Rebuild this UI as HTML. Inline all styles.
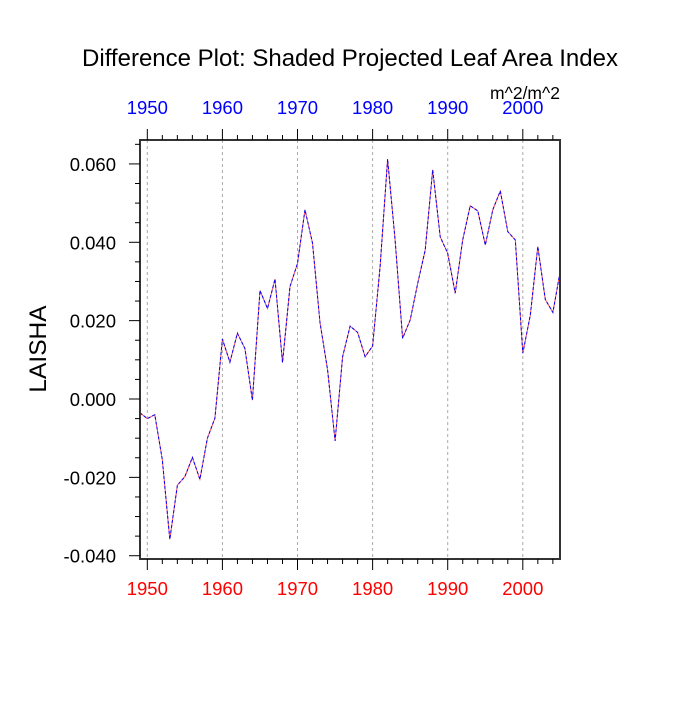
<!DOCTYPE html>
<html><head><meta charset="utf-8"><style>
body{margin:0;background:#fff}
svg{font-family:"Liberation Sans",sans-serif}
</style></head><body>
<svg id="chart" width="700" height="700">
<text x="350" y="66" font-size="24" text-anchor="middle">Difference Plot: Shaded Projected Leaf Area Index</text>
<text x="525" y="99" font-size="17.5" text-anchor="middle">m^2/m^2</text>
<text transform="translate(46,349) rotate(-90)" font-size="24.5" text-anchor="middle">LAISHA</text>
<g id="grid"></g><g id="series"></g><g id="axes"></g>
</svg>
<script>
const years=[1949,1950,1951,1952,1953,1954,1955,1956,1957,1958,1959,1960,1961,1962,1963,1964,1965,1966,1967,1968,1969,1970,1971,1972,1973,1974,1975,1976,1977,1978,1979,1980,1981,1982,1983,1984,1985,1986,1987,1988,1989,1990,1991,1992,1993,1994,1995,1996,1997,1998,1999,2000,2001,2002,2003,2004,2005];
const values=[-0.0035,-0.005,-0.004,-0.0155,-0.0358,-0.022,-0.0198,-0.0149,-0.0205,-0.010,-0.0049,0.0153,0.0094,0.0168,0.0129,-0.0003,0.0277,0.0231,0.0306,0.0093,0.0287,0.0346,0.0483,0.0398,0.0195,0.0074,-0.0107,0.0108,0.0186,0.0170,0.0108,0.0135,0.0338,0.0612,0.0406,0.0155,0.0202,0.0295,0.038,0.0585,0.0414,0.0372,0.027,0.0406,0.0493,0.048,0.0393,0.0483,0.0531,0.0427,0.0406,0.0117,0.0214,0.0389,0.0254,0.0221,0.0329];
const yTicks=[0.06,0.04,0.02,0,-0.02,-0.04];
const yTickLabels=["0.060","0.040","0.020","0.000","-0.020","-0.040"];
const xTicks=[1950,1960,1970,1980,1990,2000];

const L=140,R=560,T=140,B=559;
const X=v=>139.8+(v-1949)*7.51;
const Y=v=>399-(v)*3918;
const NS="http://www.w3.org/2000/svg";
function mk(tag,attrs,parent,txt){const e=document.createElementNS(NS,tag);for(const k in attrs)e.setAttribute(k,attrs[k]);if(txt!==undefined)e.textContent=txt;parent.appendChild(e);return e;}
const grid=document.getElementById('grid'),ser=document.getElementById('series'),ax=document.getElementById('axes');
xTicks.forEach(t=>{const g=mk('line',{x1:X(t),x2:X(t),y1:T,y2:B,stroke:'#aaa','stroke-width':1,'stroke-dasharray':'3,3'},grid);

});
const pts=years.map((y,i)=>X(y).toFixed(1)+','+Y(values[i]).toFixed(1)).join(' ');
const l1=mk('polyline',{points:pts,fill:'none',stroke:'#f55','stroke-width':1},ser);


const l2=mk('polyline',{points:pts,fill:'none',stroke:'#00f','stroke-width':1,'stroke-dasharray':'3,2'},ser);


const fr=mk('rect',{x:L,y:T,width:R-L,height:B-T,fill:'none',stroke:'#333','stroke-width':2},ax);


for(let yr=1950;yr<=2005;yr+=2){const maj=xTicks.includes(yr);const len=maj?11:5;
mk('line',{x1:X(yr),x2:X(yr),y1:T,y2:T-len,stroke:'#000','stroke-width':1},ax);
mk('line',{x1:X(yr),x2:X(yr),y1:B,y2:B+len,stroke:'#000','stroke-width':1},ax);}
xTicks.forEach(t=>{const a=mk('text',{x:X(t),y:114,'font-size':18.5,'text-anchor':'middle',fill:'#00f'},ax,String(t));


const b=mk('text',{x:X(t),y:595,'font-size':18.5,'text-anchor':'middle',fill:'#f00'},ax,String(t));

});
for(let v=-0.04;v<=0.0651;v+=0.005){const maj=Math.abs(Math.round(v*1000)%20)===0;
mk('line',{x1:L,x2:L-(maj?11:5),y1:Y(v),y2:Y(v),stroke:'#000','stroke-width':1},ax);}
yTicks.forEach((t,i)=>{const a=mk('text',{x:116,y:Y(t)+7,'font-size':18.5,'text-anchor':'end'},ax,yTickLabels[i]);

});
</script>
</body></html>
